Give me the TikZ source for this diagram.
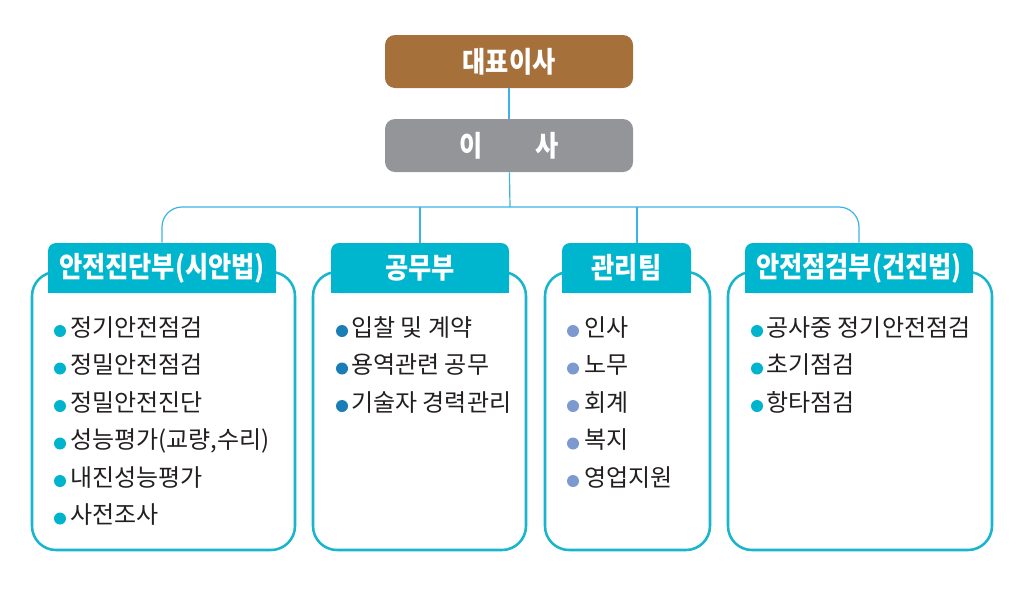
\documentclass[tikz,border=0pt]{standalone}
\usepackage{fontspec}
\setmainfont{Noto Sans CJK KR}
\newfontfamily\hfont[FakeStretch=0.88]{Noto Sans CJK KR}
\definecolor{brownc}{HTML}{A6703A}
\definecolor{grayc}{HTML}{939598}
\definecolor{hdrc}{HTML}{00B6CE}
\definecolor{panelc}{HTML}{19B5CC}
\definecolor{lineblue}{HTML}{3BB3E6}
\definecolor{txt}{HTML}{231F20}
\definecolor{bulA}{HTML}{00B4CD}
\definecolor{bulB}{HTML}{1B7DB6}
\definecolor{bulC}{HTML}{7D9AD0}
\begin{document}
\begin{tikzpicture}[x=0.75pt,y=-0.75pt,
  topbox/.style={rounded corners=7.5pt, minimum width=186pt, minimum height=39.75pt, text=white, font=\hfont\bfseries\fontsize{21.5}{24}\selectfont, inner sep=0},
  conn/.style={draw=lineblue, line width=0.9pt},
  panel/.style={draw=panelc, line width=1.9pt, fill=white, rounded corners=18pt, minimum height=208.5pt, inner sep=0},
  hdr/.style={fill=hdrc, rounded corners=6pt, minimum height=37.5pt, text=white, font=\hfont\bfseries\fontsize{21.5}{24}\selectfont, inner sep=0},
  item/.style={anchor=base west, inner sep=0, text=txt, font=\fontsize{18}{20}\selectfont},
  dot/.style={circle, inner sep=0, minimum size=9pt}
]
\useasboundingbox (0,0) rectangle (1024,590);

% top boxes
\node[topbox, fill=brownc] (ceo) at (509,61.5) {대표이사};
\node[topbox, fill=grayc] (dir) at (509,145.5) {이\hspace{40pt}사};
\coordinate (top) at (510,207);
\coordinate (d3) at (637,207);

% panels
\node[panel, minimum width=197.25pt] (p1) at (163.5,411) {};
\node[panel, minimum width=159.75pt] (p2) at (419.5,411) {};
\node[panel, minimum width=123.75pt] (p3) at (627.5,411) {};
\node[panel, minimum width=198pt] (p4) at (860,411) {};

% header bottoms (square lower corners)
\fill[hdrc] (48,268) rectangle (276,293);
\fill[hdrc] (331,268) rectangle (509,293);
\fill[hdrc] (562,268) rectangle (691,293);
\fill[hdrc] (745,268) rectangle (973,293);

% headers
\node[hdr, minimum width=171pt] (h1) at (162,268) {안전진단부(시안법)};
\node[hdr, minimum width=133.5pt] (h2) at (420,268) {공무부};
\node[hdr, minimum width=96.75pt] (h3) at (626.5,268) {관리팀};
\node[hdr, minimum width=171pt] (h4) at (859,268) {안전점검부(건진법)};

% connectors
\draw[conn] (ceo) -- (dir);
\draw[conn] (dir) -- (top);
\draw[conn, rounded corners=15pt] (h1.north) -- (h1.north |- top) -- (h4.north |- top) -- (h4.north);
\draw[conn] (top -| h2.north) -- (h2.north);
\draw[conn] (d3) -- (d3 |- h3.north);

% items
\foreach [count=\i] \t in {정기안전점검,정밀안전점검,정밀안전진단,{성능평가(교량,수리)},내진성능평가,사전조사} {
  \node[dot, fill=bulA] (da\i) at (60,{331+37.5*(\i-1)}) {};
  \node[item] (ta\i) at (70,{336+37.5*(\i-1)}) {\t};
}
\foreach [count=\i] \t in {입찰 및 계약,용역관련 공무,기술자 경력관리} {
  \node[dot, fill=bulB] (db\i) at (342,{331+37.5*(\i-1)}) {};
  \node[item] (tb\i) at (351,{336+37.5*(\i-1)}) {\t};
}
\foreach [count=\i] \t in {인사,노무,회계,복지,영업지원} {
  \node[dot, fill=bulC] (dc\i) at (573,{331+37.5*(\i-1)}) {};
  \node[item] (tc\i) at (584,{336+37.5*(\i-1)}) {\t};
}
\foreach [count=\i] \t in {공사중 정기안전점검,초기점검,항타점검} {
  \node[dot, fill=bulA] (dd\i) at (757,{331+37.5*(\i-1)}) {};
  \node[item] (td\i) at (766,{336+37.5*(\i-1)}) {\t};
}
\end{tikzpicture}
\end{document}
